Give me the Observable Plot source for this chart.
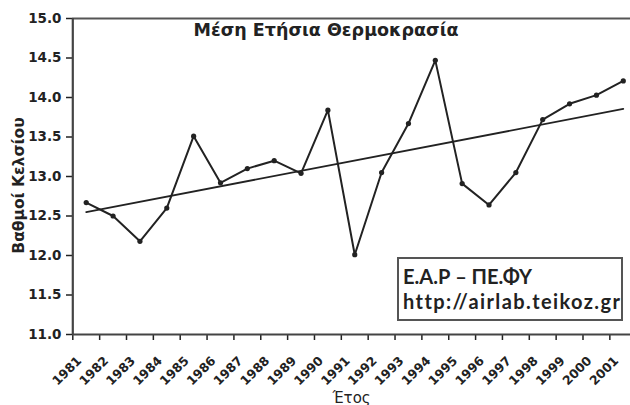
<!DOCTYPE html>
<html>
<head>
<meta charset="utf-8">
<script src="https://cdn.jsdelivr.net/npm/d3@7"></script>
<script src="https://cdn.jsdelivr.net/npm/@observablehq/plot@0.6"></script>
<style>
  html, body { margin: 0; padding: 0; background: #fff; }
  #wrap { position: relative; width: 630px; height: 405px; overflow: hidden; }
  #title { position: absolute; left: 0; width: 630px; top: 20px; text-align: center; padding-left: 22px; box-sizing: border-box;
           font: bold 17.5px "DejaVu Sans", sans-serif; color: #222; }
  #box { position: absolute; left: 397px; top: 257px; width: 226px; height: 64px; border: 2px solid #555; background: #fff;
         font: bold 20px Lato, sans-serif; color: #222; line-height: 25px; padding: 5px 0 0 4px; box-sizing: border-box; white-space: nowrap; }
  #box .url { letter-spacing: 1.4px; }
</style>
</head>
<body>
<div id="wrap">
  <div id="chart"></div>
  <div id="title">Μέση Ετήσια Θερμοκρασία</div>
  <div id="box">Ε.Α.Ρ – ΠΕ.ΦΥ<br><span class="url">http://airlab.teikoz.gr</span></div>
</div>
<script>
const years = [1981,1982,1983,1984,1985,1986,1987,1988,1989,1990,1991,1992,1993,1994,1995,1996,1997,1998,1999,2000,2001];
const temps = [12.67,12.50,12.18,12.60,13.51,12.92,13.10,13.20,13.04,13.84,12.01,13.05,13.67,14.47,12.91,12.64,13.05,13.72,13.92,14.03,14.21];
const yTicks = [11,11.5,12,12.5,13,13.5,14,14.5,15];
const yLabel = "Βαθμοί Κελσίου";
const xLabel = "Έτος";

const data = years.map((y, i) => ({year: y, temp: temps[i]}));
const bounds = d3.range(years[0] - 0.5, years[years.length - 1] + 1, 1);

const ink = "#222";
const chart = Plot.plot({
  width: 630,
  height: 405,
  marginLeft: 72,
  marginRight: 0,
  marginTop: 18,
  marginBottom: 71,
  style: {fontFamily: "'DejaVu Sans', sans-serif", color: ink, background: "#fff"},
  x: {domain: [bounds[0], bounds[bounds.length - 1]], range: [72.3, 636.2]},
  y: {domain: [11, 15]},
  marks: [
    Plot.axisY({ticks: yTicks, tickFormat: d3.format(".1f"), tickSize: 6, tickPadding: 5,
                fontSize: 13.5, fontWeight: "bold", strokeWidth: 1.5, label: null}),
    Plot.axisX({ticks: bounds, tickFormat: () => "", tickSize: 6, strokeWidth: 1.5, label: null}),
    Plot.text(years, {x: d => d, text: d => String(d), frameAnchor: "bottom", rotate: -45, textAnchor: "end", lineAnchor: "bottom",
                      dx: -4, dy: 27, fontSize: 12.5, fontWeight: "bold", fill: ink}),
    Plot.ruleY([15], {stroke: "#555", strokeWidth: 2}),
    Plot.ruleY([11], {stroke: "#444", strokeWidth: 2.2}),
    Plot.ruleX([bounds[0]], {stroke: "#444", strokeWidth: 2.2}),
    Plot.linearRegressionY(data, {x: "year", y: "temp", ci: 0, stroke: ink, strokeWidth: 1.8}),
    Plot.line(data, {x: "year", y: "temp", stroke: ink, strokeWidth: 2}),
    Plot.dot(data, {x: "year", y: "temp", r: 2.6, fill: ink, stroke: "none"}),
    Plot.text([yLabel], {frameAnchor: "left", rotate: -90, textAnchor: "middle", dx: -53, dy: 9, fontSize: 15.5, fontWeight: "bold", fill: ink}),
    Plot.text([xLabel], {frameAnchor: "bottom", dy: 68, fontSize: 15, fill: ink})
  ]
});
document.getElementById("chart").appendChild(chart);
</script>
</body>
</html>
